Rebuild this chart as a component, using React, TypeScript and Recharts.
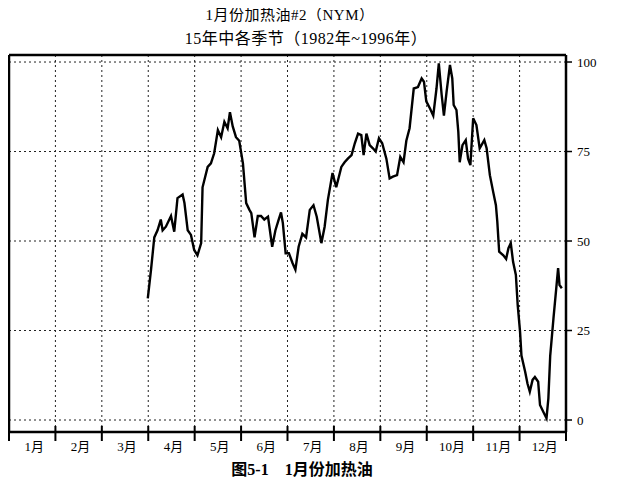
import { LineChart, Line, XAxis, YAxis, CartesianGrid, ReferenceLine } from 'recharts';

const months = ['1月', '2月', '3月', '4月', '5月', '6月', '7月', '8月', '9月', '10月', '11月', '12月'];
const monthBounds = [1, 2, 3, 4, 5, 6, 7, 8, 9, 10, 11];
const yTicks = [0, 25, 50, 75, 100];

// position in months (0 = 1 Jan, 12 = 31 Dec)
const xPos = [
  2.99, 3.06, 3.13, 3.2, 3.27, 3.31, 3.38, 3.49, 3.56, 3.63, 3.74, 3.78, 3.85, 3.92, 3.99,
  4.06, 4.14, 4.17, 4.28, 4.35, 4.42, 4.5, 4.57, 4.64, 4.71, 4.76, 4.82, 4.89, 4.96,
  5.04, 5.11, 5.18, 5.22, 5.29, 5.36, 5.43, 5.5, 5.58, 5.67, 5.74, 5.81, 5.86, 5.9, 5.96,
  6.03, 6.11, 6.17, 6.24, 6.32, 6.4, 6.48, 6.56, 6.63, 6.73, 6.8, 6.87, 6.97,
  7.05, 7.16, 7.23, 7.3, 7.38, 7.45, 7.52, 7.59, 7.64, 7.7, 7.77, 7.84, 7.9, 7.97,
  8.04, 8.13, 8.2, 8.27, 8.36, 8.43, 8.5, 8.56, 8.63, 8.72, 8.81, 8.89, 8.94, 8.99,
  9.07, 9.14, 9.21, 9.26, 9.32, 9.37, 9.43, 9.5, 9.55, 9.58, 9.64, 9.68, 9.71, 9.77, 9.84, 9.89, 9.94,
  10.0, 10.07, 10.14, 10.24, 10.29, 10.36, 10.43, 10.49, 10.52, 10.56, 10.65, 10.71, 10.76, 10.81, 10.86, 10.92, 10.96,
  11.01, 11.04, 11.12, 11.17, 11.22, 11.28, 11.33, 11.4, 11.44, 11.51, 11.58, 11.62, 11.66, 11.73, 11.79, 11.83, 11.86, 11.91,
];

const heatingOil = [
  34, 42, 51, 53, 56, 53, 54, 57, 52.6, 62, 63, 60.6, 53, 51.7, 47.5,
  46, 49.4, 65, 70.7, 71.7, 74.5, 81, 79, 83.3, 81.5, 86, 82, 79, 78,
  71.7, 60.6, 58.7, 57.8, 51, 57, 57, 56, 56.8, 48.4, 53, 56, 58, 55, 46.6,
  46.6, 43.8, 42, 48.4, 52, 51, 58.7, 60, 56.8, 49.4, 54, 61.5, 69,
  65, 70.7, 72, 73, 74, 77.3, 80, 79.6, 74, 80, 76.8, 75.9, 75, 78.7,
  77.3, 73, 67.5, 68, 68.4, 73.5, 72, 78, 81.5, 92.6, 93, 95.4, 94.5, 89,
  87, 85, 92.6, 99.6, 91, 85, 92, 99.2, 95.4, 88, 86.6, 80.5, 72, 76.8, 78.2, 73, 71.2,
  84.3, 82.4, 75.9, 78.2, 75.9, 68.4, 63.8, 60, 55.4, 47, 46, 45, 48, 49.4, 44.2, 40.5, 32,
  24.7, 18, 13.5, 10.2, 7.9, 11.2, 12, 10.7, 4.2, 2.3, 0.5, 6, 18, 28.4, 36.8, 42.4, 37.7, 36.8,
];

const data = xPos.map((x, i) => ({ x, v: heatingOil[i] }));

const xTicks: number[] = [];
for (let i = 0; i <= 24; i++) xTicks.push(i / 2);

const Y_MIN = -3.35;
const Y_MAX = 101.96;
const serif = '"Liberation Serif", "Noto Sans CJK SC", serif';

function MonthTick(props: any) {
  const { x, y, payload } = props;
  const v = payload.value;
  if (Number.isInteger(v)) {
    return <line x1={x} x2={x} y1={y - 6} y2={y + 9} stroke="#000" strokeWidth={2} />;
  }
  return (
    <text x={x + 2} y={y + 19} textAnchor="middle" fontSize={13} fontFamily={serif} fill="#000">
      {months[Math.floor(v)]}
    </text>
  );
}

export default function App() {
  return (
    <div style={{ position: 'relative', width: 626, height: 480, margin: '-8px 0 0 -8px', background: '#fff', fontFamily: serif }}>
      <div style={{ position: 'absolute', left: 290, top: 3, transform: 'translateX(-50%)', whiteSpace: 'nowrap', fontSize: 15, letterSpacing: 0.5 }}>
        1月份加热油#2（NYM）
      </div>
      <div style={{ position: 'absolute', left: 306, top: 25, transform: 'translateX(-50%)', whiteSpace: 'nowrap', fontSize: 16, letterSpacing: 0.5 }}>
        15年中各季节（1982年~1996年）
      </div>
      <LineChart width={626} height={480} data={data} margin={{ top: 55, right: 10, left: 9, bottom: 18 }}>
        <CartesianGrid vertical={false} stroke="#222" strokeDasharray="2 3" />
        {monthBounds.map((b) => (
          <ReferenceLine key={b} x={b} stroke="#222" strokeDasharray="2 3" />
        ))}
        <ReferenceLine y={Y_MAX} stroke="#000" strokeWidth={2.5} />
        <ReferenceLine x={0} stroke="#000" strokeWidth={2.5} />
        <XAxis
          dataKey="x"
          type="number"
          domain={[0, 12]}
          ticks={xTicks}
          interval={0}
          tickLine={false}
          tickSize={0}
          tickMargin={0}
          height={30}
          axisLine={{ stroke: '#000', strokeWidth: 2.5 }}
          tick={<MonthTick />}
        />
        <YAxis
          orientation="right"
          domain={[Y_MIN, Y_MAX]}
          ticks={yTicks}
          allowDataOverflow
          width={50}
          tickSize={6}
          tickMargin={5}
          axisLine={{ stroke: '#000', strokeWidth: 2.5 }}
          tickLine={{ stroke: '#000', strokeWidth: 1.5 }}
          tick={{ fill: '#000', fontSize: 13, fontFamily: serif, textAnchor: 'start' }}
        />
        <Line type="linear" dataKey="v" stroke="#000" strokeWidth={2.4} dot={false} isAnimationActive={false} />
      </LineChart>
      <div style={{ position: 'absolute', left: 302, top: 456, transform: 'translateX(-50%)', whiteSpace: 'nowrap', fontSize: 16, fontWeight: 'bold' }}>
        图5-1　1月份加热油
      </div>
    </div>
  );
}
